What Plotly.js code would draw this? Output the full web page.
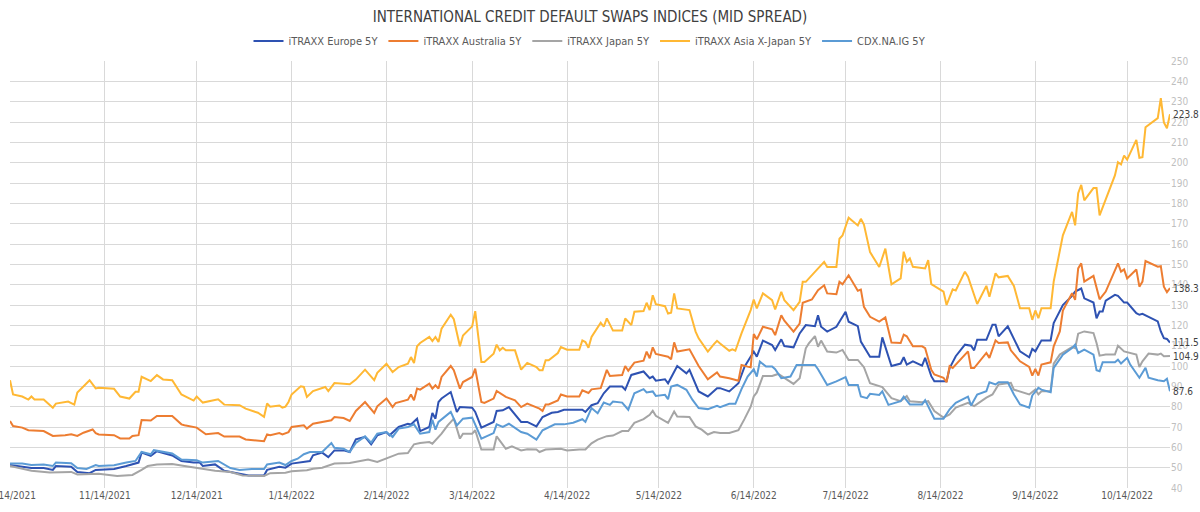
<!DOCTYPE html>
<html><head><meta charset="utf-8">
<script src="https://cdn.plot.ly/plotly-3.0.1.min.js"></script>
<style>html,body{margin:0;padding:0;background:#fff}#chart{width:1200px;height:512px}</style>
</head><body><div id="chart"></div>
<script>
const chartTitle = 'INTERNATIONAL CREDIT DEFAULT SWAPS INDICES (MID SPREAD)';
const seriesNames = ['iTRAXX Europe 5Y','iTRAXX Australia 5Y','iTRAXX Japan 5Y','iTRAXX Asia X-Japan 5Y','CDX.NA.IG 5Y'];
const seriesColors = ['#2E52B2','#ED7D31','#A5A5A5','#FFB834','#5B9BD5'];

const tickDates = ['2021-10-14','2021-11-14','2021-12-14','2022-01-14','2022-02-14','2022-03-14','2022-04-14','2022-05-14','2022-06-14','2022-07-14','2022-08-14','2022-09-14','2022-10-14'];
const tickLabels = ['10/14/2021','11/14/2021','12/14/2021','1/14/2022','2/14/2022','3/14/2022','4/14/2022','5/14/2022','6/14/2022','7/14/2022','8/14/2022','9/14/2022','10/14/2022'];

const europeDates = ['2021-10-14','2021-10-21','2021-10-25','2021-10-28','2021-10-29','2021-11-03','2021-11-05','2021-11-09','2021-11-11','2021-11-17','2021-11-21','2021-11-25','2021-11-26','2021-11-29','2021-12-01','2021-12-04','2021-12-06','2021-12-09','2021-12-13','2021-12-15','2021-12-16','2021-12-20','2021-12-23','2021-12-28','2021-12-31','2022-01-05','2022-01-06','2022-01-10','2022-01-12','2022-01-14','2022-01-18','2022-01-20','2022-01-21','2022-01-24','2022-01-26','2022-01-28','2022-01-31','2022-02-02','2022-02-04','2022-02-07','2022-02-09','2022-02-11','2022-02-14','2022-02-15','2022-02-18','2022-02-21','2022-02-22','2022-02-24','2022-02-25','2022-02-28','2022-03-01','2022-03-02','2022-03-03','2022-03-04','2022-03-07','2022-03-09','2022-03-10','2022-03-14','2022-03-15','2022-03-17','2022-03-21','2022-03-22','2022-03-24','2022-03-26','2022-03-30','2022-04-01','2022-04-04','2022-04-06','2022-04-09','2022-04-11','2022-04-13','2022-04-19','2022-04-20','2022-04-22','2022-04-24','2022-04-26','2022-04-28','2022-05-02','2022-05-03','2022-05-05','2022-05-09','2022-05-11','2022-05-12','2022-05-13','2022-05-16','2022-05-17','2022-05-20','2022-05-23','2022-05-24','2022-05-27','2022-05-30','2022-06-02','2022-06-03','2022-06-06','2022-06-09','2022-06-11','2022-06-14','2022-06-15','2022-06-17','2022-06-20','2022-06-21','2022-06-23','2022-06-24','2022-06-27','2022-06-29','2022-07-01','2022-07-04','2022-07-05','2022-07-06','2022-07-08','2022-07-11','2022-07-14','2022-07-15','2022-07-18','2022-07-19','2022-07-22','2022-07-25','2022-07-26','2022-07-29','2022-08-01','2022-08-02','2022-08-03','2022-08-05','2022-08-08','2022-08-09','2022-08-11','2022-08-12','2022-08-16','2022-08-17','2022-08-19','2022-08-22','2022-08-24','2022-08-25','2022-08-26','2022-08-29','2022-08-31','2022-09-01','2022-09-02','2022-09-05','2022-09-09','2022-09-12','2022-09-13','2022-09-14','2022-09-16','2022-09-19','2022-09-20','2022-09-23','2022-09-26','2022-09-27','2022-09-29','2022-09-30','2022-10-03','2022-10-04','2022-10-05','2022-10-06','2022-10-07','2022-10-10','2022-10-11','2022-10-13','2022-10-14','2022-10-17','2022-10-18','2022-10-19','2022-10-21','2022-10-24','2022-10-25','2022-10-26','2022-10-27','2022-10-28'];
const europeValues = [51.3,49.8,49.8,48.9,50.8,50.4,47.9,47.3,48.9,49.3,50.8,52.5,57.4,55.8,58.1,57,56,53.3,52.5,52.5,50.8,51.6,48.5,47,46.2,46.2,48.9,50.4,50,52,52.8,53.3,56.1,57.4,55.2,58.5,58.5,57.7,63.9,65.1,61.5,65.9,67.5,65.9,70,71.6,71.3,74.1,68,70,76.9,74.1,82.3,84,87.2,77.4,79.8,79.5,77.4,69.7,72.5,77.9,78.2,79.8,72.5,72.5,70.3,74.9,77,77.4,78.5,78.5,77.4,80.7,81.7,86.6,89.9,89.9,88.3,95.6,97.3,94,94.8,92.8,93.5,91.5,100,96.4,98.1,87.5,85,89.1,89.1,87.5,91.5,99.7,107.1,104.6,112.5,110.3,107.9,113.1,109.8,109.2,116,120.1,119.6,125,119.3,116.9,119.3,126.7,121.8,119.6,112,104.6,104.6,114.1,100,101.2,104.3,100.7,102.3,100.2,104,95,92.5,92.5,99,104.8,110.5,110,107.7,112.9,112.9,120.3,120.3,114.6,119.5,107.2,104.3,108.4,107.2,112.6,112.6,121.1,130,134.5,136.6,138.1,133.3,131.2,123.5,126.8,126.8,132.2,135,134.5,131.2,131.2,126,125.2,125.7,124.3,121.9,117,113.7,113.3,111.5];

const australiaDates = ['2021-10-14','2021-10-15','2021-10-18','2021-10-20','2021-10-25','2021-10-28','2021-11-01','2021-11-03','2021-11-05','2021-11-07','2021-11-10','2021-11-11','2021-11-12','2021-11-17','2021-11-19','2021-11-22','2021-11-23','2021-11-25','2021-11-26','2021-11-29','2021-12-01','2021-12-06','2021-12-09','2021-12-10','2021-12-14','2021-12-17','2021-12-21','2021-12-23','2021-12-28','2021-12-30','2022-01-05','2022-01-06','2022-01-07','2022-01-10','2022-01-11','2022-01-13','2022-01-14','2022-01-18','2022-01-19','2022-01-21','2022-01-27','2022-01-28','2022-01-31','2022-02-02','2022-02-04','2022-02-07','2022-02-10','2022-02-11','2022-02-14','2022-02-16','2022-02-17','2022-02-21','2022-02-22','2022-02-23','2022-02-24','2022-02-25','2022-02-28','2022-03-01','2022-03-02','2022-03-03','2022-03-04','2022-03-07','2022-03-08','2022-03-10','2022-03-11','2022-03-14','2022-03-15','2022-03-17','2022-03-18','2022-03-21','2022-03-22','2022-03-24','2022-03-25','2022-03-28','2022-03-30','2022-04-01','2022-04-05','2022-04-06','2022-04-07','2022-04-08','2022-04-11','2022-04-12','2022-04-14','2022-04-18','2022-04-19','2022-04-21','2022-04-22','2022-04-25','2022-04-27','2022-04-28','2022-05-02','2022-05-03','2022-05-04','2022-05-06','2022-05-09','2022-05-10','2022-05-11','2022-05-12','2022-05-13','2022-05-17','2022-05-18','2022-05-19','2022-05-20','2022-05-24','2022-05-27','2022-05-30','2022-06-02','2022-06-03','2022-06-06','2022-06-09','2022-06-10','2022-06-12','2022-06-13','2022-06-14','2022-06-15','2022-06-17','2022-06-20','2022-06-21','2022-06-23','2022-06-24','2022-06-27','2022-06-29','2022-06-30','2022-07-03','2022-07-05','2022-07-07','2022-07-08','2022-07-11','2022-07-12','2022-07-13','2022-07-15','2022-07-18','2022-07-19','2022-07-20','2022-07-22','2022-07-25','2022-07-27','2022-07-29','2022-08-01','2022-08-02','2022-08-03','2022-08-05','2022-08-08','2022-08-09','2022-08-11','2022-08-12','2022-08-15','2022-08-16','2022-08-17','2022-08-18','2022-08-23','2022-08-24','2022-08-25','2022-08-29','2022-08-30','2022-09-01','2022-09-02','2022-09-05','2022-09-06','2022-09-09','2022-09-12','2022-09-13','2022-09-14','2022-09-15','2022-09-16','2022-09-19','2022-09-20','2022-09-22','2022-09-23','2022-09-26','2022-09-27','2022-09-28','2022-09-29','2022-09-30','2022-10-03','2022-10-05','2022-10-07','2022-10-11','2022-10-12','2022-10-13','2022-10-14','2022-10-17','2022-10-18','2022-10-19','2022-10-20','2022-10-24','2022-10-25','2022-10-26','2022-10-27','2022-10-28'];
const australiaValues = [72.9,70.5,69.7,68.4,68,65.6,66,66.4,65.6,67.2,68.8,67,66.3,66,64.4,64.3,65.6,66,73.4,73.2,75.4,75.4,71.3,70.9,69.7,66.4,67,65.3,65.3,63.9,63,66.4,66,67,66.4,67.5,70,70.8,69.2,71.6,73.3,74.9,74.4,73,77.9,82.3,76.9,80.2,84,79.8,81.8,83.4,86,83.1,88.9,88.4,91.3,88.9,90.5,88.9,94.6,100,97.9,88.9,92.1,94.6,98.7,82.3,81.8,84,87.7,86,84.8,83.1,79.8,81.5,79,77.9,81.1,81.1,83.1,86,85,85,88,86.7,88.5,89.1,98.1,95.1,95.6,100,97.7,101.7,102.6,107.1,103.8,109.2,105.9,104.6,103.3,111.6,107.1,108.2,100,93.5,96.8,94.8,94,92.8,100.5,99.7,99.4,115.7,113.1,119.3,118,115.2,125,122.3,116.9,120.9,131.1,132.7,137.3,139.7,135.7,135.3,141.4,140.2,144.6,137,137.6,129.1,124.2,121.8,123.9,111.5,111.3,115.4,114.6,109.7,109.7,108.8,98.2,95.8,94.2,92,99.9,99,107.2,99,99,106.4,104,112.6,111.3,111.6,107.7,102.3,99.5,95.3,98.6,95.3,100.7,101.8,109.7,117,127.3,135.8,132.5,148,150.5,141.5,144.3,132.8,136.6,150.5,146.4,147.5,143.1,147.5,139,141.5,151.6,148.8,149.1,139,136.3,138.3];

const japanDates = ['2021-10-14','2021-10-17','2021-10-21','2021-10-27','2021-11-03','2021-11-05','2021-11-09','2021-11-12','2021-11-18','2021-11-23','2021-11-26','2021-11-28','2021-12-01','2021-12-06','2021-12-10','2021-12-15','2021-12-20','2021-12-25','2021-12-29','2022-01-05','2022-01-07','2022-01-12','2022-01-14','2022-01-19','2022-01-21','2022-01-24','2022-01-28','2022-02-02','2022-02-08','2022-02-11','2022-02-15','2022-02-18','2022-02-21','2022-02-23','2022-02-25','2022-02-28','2022-03-01','2022-03-02','2022-03-04','2022-03-06','2022-03-08','2022-03-10','2022-03-11','2022-03-14','2022-03-15','2022-03-17','2022-03-21','2022-03-22','2022-03-25','2022-03-27','2022-03-30','2022-04-01','2022-04-04','2022-04-05','2022-04-07','2022-04-12','2022-04-14','2022-04-18','2022-04-20','2022-04-22','2022-04-24','2022-04-27','2022-04-29','2022-05-02','2022-05-04','2022-05-06','2022-05-09','2022-05-11','2022-05-12','2022-05-13','2022-05-17','2022-05-19','2022-05-20','2022-05-24','2022-05-26','2022-05-28','2022-05-30','2022-06-01','2022-06-03','2022-06-06','2022-06-09','2022-06-11','2022-06-13','2022-06-14','2022-06-15','2022-06-17','2022-06-20','2022-06-22','2022-06-24','2022-06-27','2022-06-29','2022-07-01','2022-07-02','2022-07-04','2022-07-05','2022-07-06','2022-07-08','2022-07-11','2022-07-13','2022-07-15','2022-07-18','2022-07-20','2022-07-22','2022-07-26','2022-07-29','2022-08-01','2022-08-03','2022-08-04','2022-08-08','2022-08-10','2022-08-12','2022-08-15','2022-08-17','2022-08-19','2022-08-23','2022-08-25','2022-08-29','2022-08-31','2022-09-02','2022-09-05','2022-09-06','2022-09-07','2022-09-12','2022-09-14','2022-09-15','2022-09-16','2022-09-19','2022-09-20','2022-09-22','2022-09-26','2022-09-27','2022-09-28','2022-09-30','2022-10-03','2022-10-04','2022-10-05','2022-10-07','2022-10-10','2022-10-11','2022-10-13','2022-10-17','2022-10-18','2022-10-19','2022-10-21','2022-10-24','2022-10-25','2022-10-26','2022-10-28'];
const japanValues = [50.8,49.8,48.5,47.6,47.9,46.7,46.7,47,45.9,46.4,48.9,50.8,51.6,51.8,50.8,49.8,48.5,47.9,46.2,45.9,47.3,47.5,48.2,48.7,49.5,50,52,52.3,54,52.8,55.2,56.9,57.2,61.5,62.1,62.6,61.8,63.4,66.7,70.8,74.1,64.3,66.7,66.7,68.4,58.9,58.9,65.4,59.3,60.5,58.5,59,58.9,57.7,58.9,59.3,58.5,58.9,58.9,62,63.8,65.5,65.8,68,68,72,73.9,76,78,75.5,72,77.6,75.2,74.9,70.3,68.7,66.3,67.5,67.1,67.1,68.4,74,80,85,87,95.1,95.1,96.1,94,91.2,94,108.7,111.1,114.7,109.5,112.5,107.1,106.6,107.9,103,103,99.4,91.5,89.6,84.2,82.7,85.2,82.7,82.2,82.7,77.8,74.6,76.2,79.5,81.9,80.3,84.4,86,90.9,91.7,91.7,88.4,86,88.4,86,87.6,87.6,101.2,105.6,109.3,108.8,115.9,117,116.2,111.3,105.1,105.6,105.6,110,107.2,105.6,99.5,102.3,106.1,105.6,106.1,104.8,104.9];

const asiaDates = ['2021-10-14','2021-10-15','2021-10-18','2021-10-20','2021-10-21','2021-10-22','2021-10-25','2021-10-28','2021-10-29','2021-11-02','2021-11-04','2021-11-05','2021-11-09','2021-11-11','2021-11-12','2021-11-17','2021-11-19','2021-11-22','2021-11-24','2021-11-25','2021-11-26','2021-11-29','2021-12-01','2021-12-03','2021-12-06','2021-12-09','2021-12-13','2021-12-14','2021-12-16','2021-12-21','2021-12-23','2021-12-28','2021-12-30','2022-01-03','2022-01-05','2022-01-06','2022-01-07','2022-01-10','2022-01-11','2022-01-12','2022-01-13','2022-01-14','2022-01-17','2022-01-18','2022-01-19','2022-01-21','2022-01-25','2022-01-26','2022-01-28','2022-02-02','2022-02-04','2022-02-07','2022-02-10','2022-02-11','2022-02-14','2022-02-16','2022-02-18','2022-02-21','2022-02-22','2022-02-23','2022-02-24','2022-02-25','2022-02-28','2022-03-01','2022-03-02','2022-03-03','2022-03-04','2022-03-07','2022-03-08','2022-03-10','2022-03-11','2022-03-14','2022-03-15','2022-03-17','2022-03-18','2022-03-21','2022-03-22','2022-03-23','2022-03-24','2022-03-25','2022-03-28','2022-03-30','2022-04-01','2022-04-04','2022-04-05','2022-04-06','2022-04-07','2022-04-08','2022-04-11','2022-04-12','2022-04-14','2022-04-18','2022-04-19','2022-04-20','2022-04-21','2022-04-22','2022-04-25','2022-04-26','2022-04-27','2022-04-29','2022-05-02','2022-05-03','2022-05-05','2022-05-06','2022-05-09','2022-05-10','2022-05-11','2022-05-12','2022-05-13','2022-05-16','2022-05-17','2022-05-18','2022-05-19','2022-05-20','2022-05-24','2022-05-26','2022-05-27','2022-05-30','2022-06-01','2022-06-02','2022-06-03','2022-06-06','2022-06-07','2022-06-08','2022-06-10','2022-06-13','2022-06-14','2022-06-15','2022-06-17','2022-06-20','2022-06-21','2022-06-23','2022-06-24','2022-06-27','2022-06-29','2022-06-30','2022-07-01','2022-07-04','2022-07-05','2022-07-07','2022-07-08','2022-07-11','2022-07-12','2022-07-13','2022-07-15','2022-07-18','2022-07-19','2022-07-20','2022-07-22','2022-07-25','2022-07-27','2022-07-29','2022-08-01','2022-08-02','2022-08-03','2022-08-04','2022-08-05','2022-08-09','2022-08-10','2022-08-11','2022-08-15','2022-08-16','2022-08-18','2022-08-19','2022-08-22','2022-08-23','2022-08-26','2022-08-29','2022-08-30','2022-09-01','2022-09-02','2022-09-05','2022-09-07','2022-09-09','2022-09-12','2022-09-13','2022-09-14','2022-09-15','2022-09-16','2022-09-19','2022-09-20','2022-09-23','2022-09-26','2022-09-27','2022-09-28','2022-09-29','2022-09-30','2022-10-03','2022-10-04','2022-10-05','2022-10-10','2022-10-11','2022-10-12','2022-10-13','2022-10-14','2022-10-17','2022-10-18','2022-10-19','2022-10-20','2022-10-24','2022-10-25','2022-10-26','2022-10-27','2022-10-28'];
const asiaValues = [93,86,85,83.5,85,83.5,83.5,79.5,81.5,82.5,81,87,93,89,89.3,88.8,85,84,87.3,87.3,94.7,92.6,95.5,93.4,93,86,83,85,82,83.6,81,80.7,79,77,75,81.6,80,80.6,79.5,80,82.3,86,90,89.7,84.8,87.7,89.7,87.7,91.6,91,93.3,98.2,93,96.6,101.1,97,99.5,101.1,104.4,101.5,109.7,111.3,114.3,112.3,114.3,111.8,118.4,125.2,123,109.7,115,119.5,127,102,102,106,110.5,107.7,109,107.7,107.7,98.2,101.5,99.5,97.9,97.9,102.8,102.8,106.4,109.3,108,108,112.6,111.8,109,114.3,121.3,119.3,123.4,117.4,117.4,123.4,120.1,126.7,127,131.1,127.5,134.8,130.4,129.4,125.8,126.2,135.7,128.3,127.5,116.9,113.6,107.1,110.8,112.4,111.1,107.5,108.2,107.5,116,127.5,132.7,128.3,135.7,132.4,127.8,136.5,132.4,127.5,131.6,141.4,141.4,146.3,147.4,151.2,148.7,148.7,162.6,164.2,172.9,169.1,172.4,169.6,156,148.7,157.7,140.2,143.1,156.2,151.3,152.9,148.8,148,152.1,140.3,136.6,130,137.7,137.1,146.4,143.9,130.5,139.4,134.1,145.6,143.6,144.3,139.4,128.4,128.4,122.7,127.3,123.5,128.4,128.4,141.5,164.3,175.8,169.2,185,189.1,181.5,187.5,187.5,174.1,193.7,200.2,199.1,203.5,201.5,211.2,202.4,202.7,217.4,221.9,231.7,219.8,216.9,223.8];

const cdxDates = ['2021-10-14','2021-10-18','2021-10-21','2021-10-25','2021-10-28','2021-10-29','2021-11-03','2021-11-05','2021-11-08','2021-11-11','2021-11-12','2021-11-17','2021-11-21','2021-11-24','2021-11-26','2021-11-29','2021-11-30','2021-12-03','2021-12-06','2021-12-09','2021-12-14','2021-12-16','2021-12-21','2021-12-25','2021-12-28','2022-01-01','2022-01-05','2022-01-06','2022-01-10','2022-01-12','2022-01-14','2022-01-16','2022-01-18','2022-01-20','2022-01-24','2022-01-27','2022-01-28','2022-01-31','2022-02-02','2022-02-04','2022-02-07','2022-02-09','2022-02-11','2022-02-14','2022-02-16','2022-02-18','2022-02-21','2022-02-23','2022-02-25','2022-02-28','2022-03-01','2022-03-02','2022-03-03','2022-03-07','2022-03-09','2022-03-11','2022-03-14','2022-03-17','2022-03-21','2022-03-22','2022-03-24','2022-03-26','2022-03-30','2022-04-01','2022-04-04','2022-04-06','2022-04-10','2022-04-13','2022-04-16','2022-04-19','2022-04-20','2022-04-22','2022-04-24','2022-04-26','2022-04-28','2022-04-29','2022-05-02','2022-05-04','2022-05-06','2022-05-09','2022-05-10','2022-05-12','2022-05-13','2022-05-16','2022-05-17','2022-05-18','2022-05-20','2022-05-23','2022-05-25','2022-05-27','2022-05-30','2022-06-02','2022-06-03','2022-06-06','2022-06-08','2022-06-10','2022-06-12','2022-06-14','2022-06-15','2022-06-16','2022-06-18','2022-06-20','2022-06-21','2022-06-23','2022-06-26','2022-06-28','2022-06-30','2022-07-04','2022-07-05','2022-07-08','2022-07-11','2022-07-14','2022-07-15','2022-07-18','2022-07-19','2022-07-21','2022-07-22','2022-07-25','2022-07-26','2022-07-28','2022-08-01','2022-08-02','2022-08-04','2022-08-08','2022-08-09','2022-08-11','2022-08-12','2022-08-15','2022-08-17','2022-08-19','2022-08-23','2022-08-24','2022-08-26','2022-08-29','2022-08-30','2022-09-01','2022-09-02','2022-09-05','2022-09-07','2022-09-09','2022-09-12','2022-09-13','2022-09-15','2022-09-16','2022-09-19','2022-09-20','2022-09-23','2022-09-26','2022-09-27','2022-09-28','2022-09-30','2022-10-03','2022-10-04','2022-10-05','2022-10-06','2022-10-10','2022-10-11','2022-10-12','2022-10-14','2022-10-15','2022-10-18','2022-10-20','2022-10-21','2022-10-24','2022-10-26','2022-10-27','2022-10-28'];
const cdxValues = [52.1,52,51.3,51.6,50.8,52.5,52.2,49.8,49.4,51.3,50.8,51.2,52.5,53.3,57.7,56.6,58.6,57.7,57,54,53.6,52.5,53.3,49.8,48.9,49.3,49.3,51.6,52.5,51.3,53.3,54.4,56.6,57.7,57.7,62.1,59.8,59.3,57.7,62.1,65.4,62.3,66.7,67.5,65.1,69.2,70,71.3,66.7,67.5,73.6,68.7,72.5,77.4,70.8,74.1,74.6,64.3,67,71.3,70,71.6,67.5,66.7,63.8,68.4,71.3,71.3,72.1,73.8,72.5,79.3,76.8,82,80.9,82.5,82,78.5,86.6,88.6,87,87.5,85.3,85.8,83.7,89.9,90.7,88.3,83.3,79.3,78.8,80.4,79.8,81.4,81.4,88.6,94.8,98.4,94.8,102.2,99.7,99.7,98.4,94,94.8,100.5,100.5,100.5,98.4,90.7,92.4,94.5,90.7,90.7,85,84.2,86.3,85.8,87.5,80.9,82.7,84.9,81.1,81.1,83.2,77,74.1,74.1,78.7,81.9,84.9,80.6,86,87.6,92,90.9,92,92,86,81.1,79.5,85.5,89.3,88.4,87.1,99.1,105.6,108.8,110.5,106.4,108,105.6,97.9,97.4,101.8,101.8,103.1,101.2,104,100.7,94.2,99.1,94.2,93,92.5,93.7,87.6];

const seriesDates = [europeDates, australiaDates, japanDates, asiaDates, cdxDates];
const seriesValues = [europeValues, australiaValues, japanValues, asiaValues, cdxValues];

const FONT = '"Liberation Sans Narrow", "DejaVu Sans Condensed", "Roboto", sans-serif';

const traces = seriesNames.map((name, i) => ({
  type: 'scatter', mode: 'lines', name: name,
  x: seriesDates[i], y: seriesValues[i],
  line: {color: seriesColors[i], width: 2},
  hoverinfo: 'skip'
}));

const annotations = seriesNames.map((name, i) => {
  const d = seriesDates[i], v = seriesValues[i];
  return {
    xref: 'x', yref: 'y', x: d[d.length - 1], y: v[v.length - 1],
    text: v[v.length - 1].toFixed(1), showarrow: false,
    xanchor: 'left', yanchor: 'middle', xshift: 1,
    font: {family: FONT, size: 10, color: '#404040'}
  };
});

const layout = {
  width: 1200, height: 512,
  margin: {l: 10, r: 30, t: 61, b: 24, pad: 0},
  paper_bgcolor: '#ffffff', plot_bgcolor: '#ffffff',
  font: {family: FONT, color: '#595959'},
  title: {
    text: chartTitle, x: 0.5, xanchor: 'center', xref: 'paper',
    y: 1 - 17 / 512, yanchor: 'middle', yref: 'container',
    font: {family: FONT, size: 15, color: '#404040'}
  },
  showlegend: true,
  legend: {
    orientation: 'h', x: 0.5, xanchor: 'center', y: 1.047, yanchor: 'middle',
    font: {family: FONT, size: 11, color: '#595959'},
    itemwidth: 30, bgcolor: 'rgba(0,0,0,0)'
  },
  xaxis: {
    type: 'date', range: ['2021-10-14', '2022-10-28'],
    tickmode: 'array', tickvals: tickDates, ticktext: tickLabels,
    showgrid: true, gridcolor: '#D9D9D9', gridwidth: 1,
    zeroline: false, showline: false, ticks: '',
    tickfont: {family: FONT, size: 10, color: '#595959'},
    ticklabeloverflow: 'allow'
  },
  yaxis: {
    side: 'right', range: [40, 250], tick0: 40, dtick: 10,
    showgrid: true, gridcolor: '#D9D9D9', gridwidth: 1,
    zeroline: false, showline: false, ticks: '',
    tickfont: {family: FONT, size: 10, color: '#BFBFBF'}
  },
  annotations: annotations
};

Plotly.newPlot('chart', traces, layout, {displayModeBar: false, staticPlot: true});
</script>
</body></html>
